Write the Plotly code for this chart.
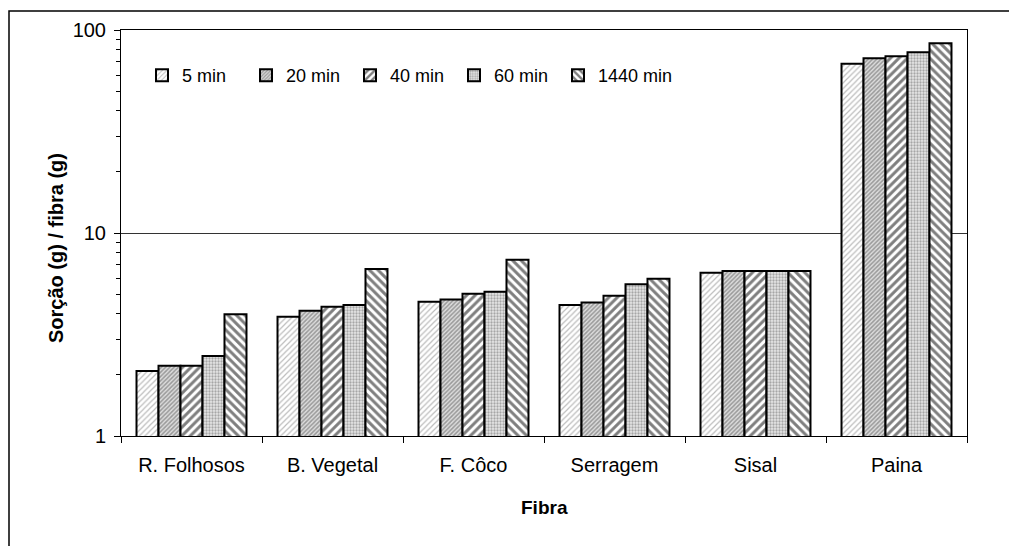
import plotly.graph_objects as go

categories = ["R. Folhosos", "B. Vegetal", "F. Côco", "Serragem", "Sisal", "Paina"]
series_names = ["5 min", "20 min", "40 min", "60 min", "1440 min"]
v_5 = [2.09, 3.87, 4.59, 4.42, 6.37, 68.2]
v_20 = [2.22, 4.14, 4.71, 4.54, 6.50, 72.5]
v_40 = [2.22, 4.33, 5.02, 4.91, 6.50, 74.2]
v_60 = [2.48, 4.42, 5.14, 5.59, 6.50, 77.6]
v_1440 = [3.98, 6.65, 7.39, 5.96, 6.50, 86.0]
series_values = [v_5, v_20, v_40, v_60, v_1440]

patterns = [
    dict(shape="/", size=4, solidity=0.3, fgcolor="#7a7a7a", bgcolor="white"),
    dict(shape="/", size=3, solidity=0.5, fgcolor="#555555", bgcolor="#dcdcdc"),
    dict(shape="/", size=6, solidity=0.5, fgcolor="black", bgcolor="white"),
    dict(shape=".", size=3, solidity=0.45, fgcolor="#666666", bgcolor="#e6e6e6"),
    dict(shape="\\", size=6, solidity=0.5, fgcolor="black", bgcolor="white"),
]

FONT = "Liberation Sans, Arial, sans-serif"

fig = go.Figure()
for name, vals, pat in zip(series_names, series_values, patterns):
    fig.add_trace(go.Bar(
        x=categories, y=vals, name=name,
        marker=dict(color="white", pattern=pat, line=dict(color="black", width=2)),
    ))
# invisible spacer entry so the last legend label is not clipped
fig.add_trace(go.Scatter(
    x=[None], y=[None], mode="lines", name=" ",
    line=dict(color="rgba(0,0,0,0)", width=0), hoverinfo="skip", showlegend=True,
))

# page body has an 8px margin; positions below are in figure pixels
W, H = 1017, 546
L, R, T, B = 113, 58, 22, 118
pw, ph = W - L - R, H - T - B

def px_x(p):
    return (p - L) / pw

def px_y(p):
    return (H - B - p) / ph

fig.update_layout(
    width=W, height=H,
    margin=dict(l=L, r=R, t=T, b=B),
    paper_bgcolor="white", plot_bgcolor="white",
    barmode="group", bargap=0.22, bargroupgap=0,
    font=dict(family=FONT, size=18, color="black"),
    showlegend=True,
    legend=dict(
        orientation="h", x=px_x(134), y=px_y(49), xanchor="left", yanchor="top",
        bgcolor="rgba(0,0,0,0)", borderwidth=0,
        font=dict(family=FONT, size=18, color="black"),
        entrywidth=59, entrywidthmode="pixels",
        traceorder="normal",
    ),
    xaxis=dict(
        type="category",
        showline=True, linecolor="black", linewidth=1, mirror=True,
        ticks="outside", ticklen=6, tickcolor="black", tickson="boundaries",
        showgrid=False,
        tickfont=dict(family=FONT, size=20),
        ticklabelstandoff=11,
    ),
    yaxis=dict(
        type="log", range=[0, 2],
        tickvals=[1, 10, 100], ticktext=["1", "10", "100"],
        showline=True, linecolor="black", linewidth=1, mirror=True,
        ticks="outside", ticklen=6, tickcolor="black",
        showgrid=True, gridcolor="#333333", gridwidth=1,
        tickfont=dict(family=FONT, size=20),
        ticklabelstandoff=4,
        minor=dict(ticks="outside", ticklen=4, tickcolor="black", dtick="D1", showgrid=False),
    ),
    annotations=[
        dict(text="<b>Fibra</b>", xref="paper", yref="paper",
             x=px_x(536), y=px_y(499), xanchor="center", yanchor="middle",
             showarrow=False, font=dict(family=FONT, size=19, color="black")),
        dict(text="<b>Sorção (g) / fibra (g)</b>", xref="paper", yref="paper",
             x=px_x(48), y=px_y(240), xanchor="center", yanchor="middle", textangle=-90,
             showarrow=False, font=dict(family=FONT, size=20, color="black")),
    ],
    shapes=[dict(
        type="rect", xref="paper", yref="paper",
        x0=px_x(1), x1=px_x(1040), y0=px_y(570), y1=px_y(3),
        line=dict(color="black", width=1.5), fillcolor="rgba(0,0,0,0)", layer="below",
    )],
)

fig.write_html("out.html")
